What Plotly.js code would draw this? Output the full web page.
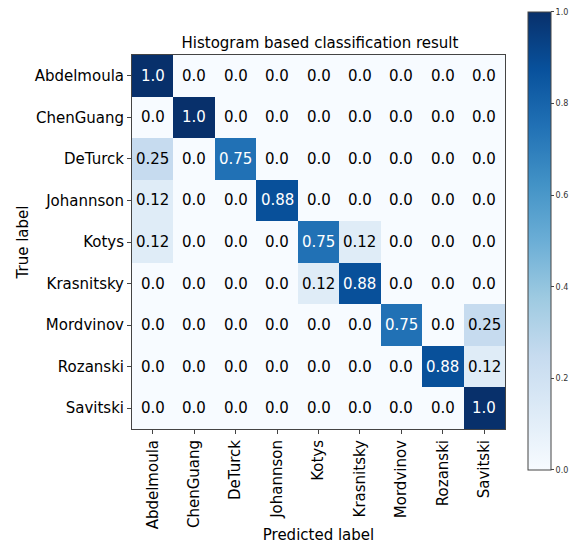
<!DOCTYPE html>
<html>
<head>
<meta charset="utf-8">
<script src="https://cdn.plot.ly/plotly-3.0.1.min.js"></script>
<style>html,body{margin:0;padding:0;background:#fff;}#chart{width:581px;height:544px;}</style>
</head>
<body>
<div id="chart"></div>
<script>
const classes = ["Abdelmoula","ChenGuang","DeTurck","Johannson","Kotys","Krasnitsky","Mordvinov","Rozanski","Savitski"];
const rowAbdelmoula = [1.0,0,0,0,0,0,0,0,0];
const rowChenGuang  = [0,1.0,0,0,0,0,0,0,0];
const rowDeTurck    = [0.25,0,0.75,0,0,0,0,0,0];
const rowJohannson  = [0.12,0,0,0.88,0,0,0,0,0];
const rowKotys      = [0.12,0,0,0,0.75,0.12,0,0,0];
const rowKrasnitsky = [0,0,0,0,0.12,0.88,0,0,0];
const rowMordvinov  = [0,0,0,0,0,0,0.75,0,0.25];
const rowRozanski   = [0,0,0,0,0,0,0,0.88,0.12];
const rowSavitski   = [0,0,0,0,0,0,0,0,1.0];
const z = [rowAbdelmoula,rowChenGuang,rowDeTurck,rowJohannson,rowKotys,rowKrasnitsky,rowMordvinov,rowRozanski,rowSavitski];

const blues = [[0,'#f7fbff'],[0.125,'#deebf7'],[0.25,'#c6dbef'],[0.375,'#9ecae1'],[0.5,'#6baed6'],[0.625,'#4292c6'],[0.75,'#2171b5'],[0.875,'#08519c'],[1,'#08306b']];
const fmt = v => Number.isInteger(v) ? v.toFixed(1) : String(v);
const font = "DejaVu Sans, sans-serif";

const annotations = [];
z.forEach((row, i) => row.forEach((v, j) => {
  annotations.push({x: classes[j], y: classes[i], xref:'x', yref:'y', text: fmt(v), showarrow:false,
    font:{family:font, size:15, color: v > 0.5 ? '#ffffff' : '#000000'}});
}));

const trace = {
  type:'heatmap', x: classes, y: classes, z: z, zmin:0, zmax:1,
  colorscale: blues, hoverinfo:'skip',
  colorbar:{x:1.061, xanchor:'left', y:0.5027, yanchor:'middle', len:458, lenmode:'pixels',
    thickness:23, thicknessmode:'pixels', outlinewidth:1, outlinecolor:'#444',
    tickvals:[0,0.2,0.4,0.6,0.8,1.0], ticktext:['0.0','0.2','0.4','0.6','0.8','1.0'],
    ticks:'outside', ticklen:3, tickcolor:'#444', tickfont:{family:font, size:8, color:'#333'}, xpad:0, ypad:0}
};

const layout = {
  width:581, height:544, margin:{l:132, r:73, t:53, b:115},
  paper_bgcolor:'#fff', plot_bgcolor:'#fff',
  title:{text:'Histogram based classification result', x:0.5507, xanchor:'center', y:0.922, yanchor:'middle', font:{family:font, size:15, color:'#000'}},
  xaxis:{type:'category', tickangle:-90, ticks:'outside', ticklen:4, tickcolor:'#444', showgrid:false, zeroline:false,
    showline:true, mirror:true, linecolor:'#444', linewidth:1, tickfont:{family:font, size:15, color:'#000'},
    title:{text:'Predicted label', font:{family:font, size:15, color:'#000'}, standoff:8}},
  yaxis:{type:'category', autorange:'reversed', ticks:'outside', ticklen:4, tickcolor:'#444', showgrid:false, zeroline:false,
    showline:true, mirror:true, linecolor:'#444', linewidth:1, tickfont:{family:font, size:15, color:'#000'},
    title:{text:'True label', font:{family:font, size:15, color:'#000'}, standoff:2}},
  annotations: annotations
};
Plotly.newPlot('chart', [trace], layout, {displayModeBar:false, staticPlot:true});
</script>
</body>
</html>
